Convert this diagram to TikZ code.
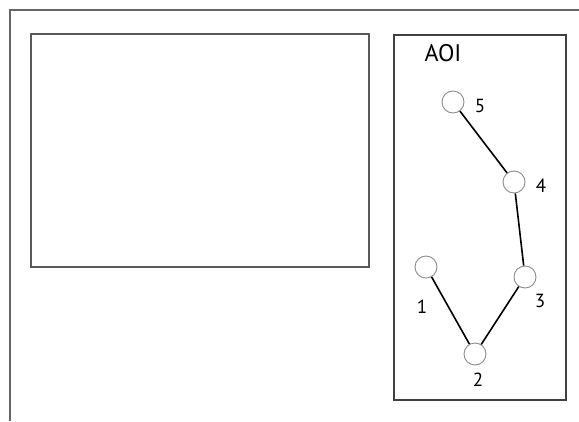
\documentclass[tikz,border=0pt]{standalone}
\usepackage{fontspec}
\setmainfont{PT Sans}
\usetikzlibrary{positioning}
\begin{document}
\begin{tikzpicture}[x=1pt, y=-1pt]
    \useasboundingbox (0,0) rectangle (579,421);
    \draw[line width=1.3pt, black!60] (10,421) -- (10,10) -- (579,10);
    \node[rectangle, draw, line width=1.3pt, black!65, minimum width=338pt, minimum height=233pt, inner sep=0pt] (stim) at (200,150.5) {};
    \node[rectangle, draw, line width=1.3pt, black!75, minimum width=172pt, minimum height=365pt, inner sep=0pt] (aoi) at (480,217.5) {};
    \node[font=\fontsize{24}{28}\selectfont] (aoilabel) at (443,53) {AOI};
    \foreach \i/\x/\y/\lx/\ly in {1/426/267/422/307, 2/475/354/478/380, 3/525/277/540/301, 4/514/182/541/186, 5/453/102/480/106} {
        \node[circle, draw, black!45, line width=0.9pt, fill=white, minimum size=22pt, inner sep=0pt] (f\i) at (\x,\y) {};
        \node[font=\fontsize{19}{22}\selectfont] (n\i) at (\lx,\ly) {\i};
    }
    \draw[line width=1.6pt] (f1) -- (f2) -- (f3) -- (f4) -- (f5);
\end{tikzpicture}
\end{document}
